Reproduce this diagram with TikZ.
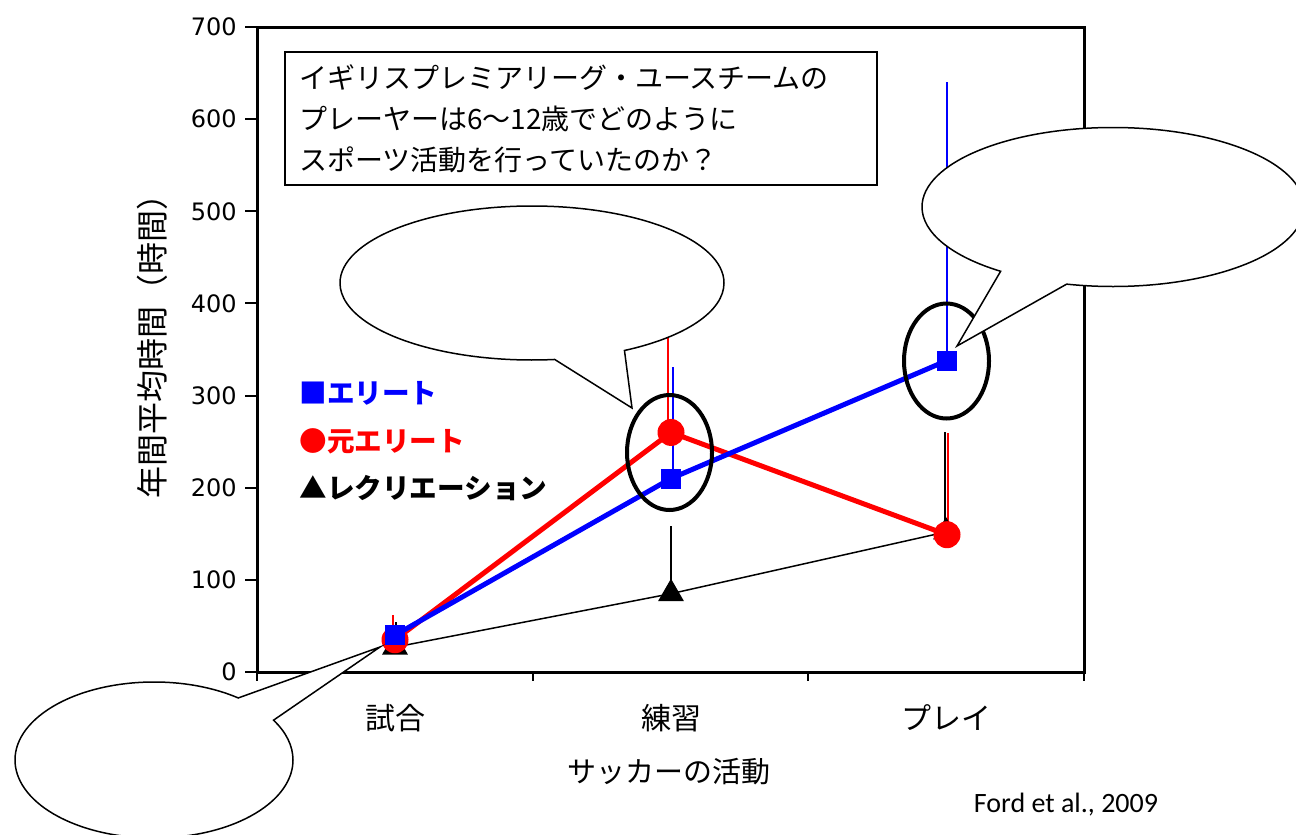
\documentclass[tikz,border=0pt]{standalone}
\usepackage{fontspec}
\newfontfamily\jpfont{Noto Sans CJK JP}
\newfontfamily\tickfont{DejaVu Sans}
\newfontfamily\citefont{Carlito}
\usepackage{tikz}
\usetikzlibrary{shapes.geometric, shapes.callouts, positioning}

\definecolor{eliteblue}{RGB}{0,0,255}
\definecolor{exred}{RGB}{255,0,0}

\begin{document}
\begin{tikzpicture}[
    x=0.5pt, y=-0.5pt,
    frame/.style={line width=1.5pt},
    tickmark/.style={line width=1pt},
    ticklabel/.style={font=\tickfont\fontsize{12pt}{14pt}\selectfont, inner sep=0pt},
    catlabel/.style={font=\jpfont\fontsize{15pt}{18pt}\selectfont, inner sep=0pt},
    elitemark/.style={rectangle, fill=eliteblue, minimum size=10pt, inner sep=0pt},
    exmark/.style={circle, fill=exred, minimum size=13.5pt, inner sep=0pt},
    recmark/.style={regular polygon, regular polygon sides=3, fill=black, minimum size=15pt, inner sep=0pt},
    eliteline/.style={eliteblue, line width=2.5pt},
    exline/.style={exred, line width=2.5pt},
    recline/.style={black, line width=0.75pt},
    errbar/.style={line width=0.75pt},
    ring/.style={ellipse, draw, line width=2pt, minimum width=42.5pt, minimum height=57.5pt, inner sep=0pt},
    bubble/.style={ellipse callout, draw, fill=white, line width=0.75pt, callout pointer arc=22, inner sep=0pt},
    titlebox/.style={draw, fill=white, line width=1pt, align=left, text width=282pt, minimum height=66.5pt,
        inner xsep=7pt, inner ysep=0pt, font=\jpfont\fontsize{14pt}{20.5pt}\selectfont},
    legend/.style={anchor=west, inner sep=0pt, font=\jpfont\bfseries\fontsize{13.8pt}{16pt}\selectfont}
]
    \useasboundingbox (0,0) rectangle (1296,835);

    % axes
    \draw[frame] (257,27) rectangle (1084,672);
    \foreach \tx in {257,532.7,808.3,1084}
        \draw[tickmark] (\tx,672) -- (\tx,681);

    \begin{scope}[yshift=-336pt, y=0.4607pt]
        \foreach \v in {0,100,...,700} {
            \draw[tickmark] (245,\v) -- (257,\v);
            \node[ticklabel, anchor=east] (ytick\v) at (237,\v) {\v};
        }

        % data
        \coordinate (r1) at (395,27);
        \coordinate (r2) at (671,85);
        \coordinate (r3) at (946,152);
        \coordinate (x1) at (395,35);
        \coordinate (x2) at (671,260);
        \coordinate (x3) at (947,149);
        \coordinate (e1) at (395,40);
        \coordinate (e2) at (671,210);
        \coordinate (e3) at (947,338);

        \coordinate (r1top) at (395,54);
        \coordinate (r2top) at (671,158);
        \coordinate (r3top) at (946,260);
        \coordinate (x1top) at (395,62);
        \coordinate (x2top) at (671,420);
        \coordinate (x3top) at (947,259);
        \coordinate (e2top) at (671,331);
        \coordinate (e3top) at (947,640);

        % error bars
        \draw[errbar] ([xshift=0.5pt]r1) -- ([xshift=0.5pt]r1top);
        \draw[errbar] (r2) -- (r2top);
        \draw[errbar] ([xshift=-0.5pt]r3) -- ([xshift=-0.5pt]r3top);
        \draw[errbar, exred] ([xshift=-1pt]x1) -- ([xshift=-1pt]x1top);
        \draw[errbar, exred] ([xshift=-1.5pt]x2) -- ([xshift=-1.5pt]x2top);
        \draw[errbar, exred] ([xshift=0.5pt]x3) -- ([xshift=0.5pt]x3top);
        \draw[errbar, eliteblue] ([xshift=1pt]e2) -- ([xshift=1pt]e2top);
        \draw[errbar, eliteblue] (e3) -- (e3top);

        % recreation
        \draw[recline] (r1) -- (r2) -- (r3);
        \node[recmark] (r1m) at (r1) {};
        \node[recmark] (r2m) at (r2) {};
        \node[recmark] (r3m) at (r3) {};

        % former elite
        \draw[exline] (x1) -- (x2) -- (x3);
        \node[exmark] (x1m) at (x1) {};
        \node[exmark] (x2m) at (x2) {};
        \node[exmark] (x3m) at (x3) {};

        % elite
        \draw[eliteline] (e1) -- (e2) -- (e3);
        \node[elitemark] (e1m) at (e1) {};
        \node[elitemark] (e2m) at (e2) {};
        \node[elitemark] (e3m) at (e3) {};
    \end{scope}

    \node[ring] (ring2) at (669.5,452.5) {};
    \node[ring] (ring3) at (946.5,361) {};

    % category labels
    \node[catlabel] (cat1) at (395,718) {試合};
    \node[catlabel] (cat2) at (671,718) {練習};
    \node[catlabel] (cat3) at (946,718) {プレイ};
    \node[font=\jpfont\fontsize{14.5pt}{17pt}\selectfont] (xtitle) at (669,772) {サッカーの活動};
    \node[font=\jpfont\fontsize{16pt}{19pt}\selectfont, rotate=90] (ytitle) at (152,338) {年間平均時間（時間）};
    \node[font=\citefont\fontsize{14pt}{17pt}\selectfont] (source) at (1066,805) {Ford et al., 2009};

    % callouts
    \coordinate (tipmid) at (632,408);
    \coordinate (tipright) at (957,346);
    \coordinate (tipleft) at (380,647);
    \node[bubble, minimum width=192pt, minimum height=77pt, callout absolute pointer={(tipmid)}] (bubmid) at (532,283) {};
    \node[bubble, minimum width=191pt, minimum height=79.5pt, callout absolute pointer={(tipright)}] (bubright) at (1113,207) {};
    \node[bubble, minimum width=139pt, minimum height=78pt, callout absolute pointer={(tipleft)}] (bubleft) at (154,760) {};

    \node[titlebox, anchor=north west] (title) at (284,51)
        {イギリスプレミアリーグ・ユースチームの\\プレーヤーは6〜12歳でどのように\\スポーツ活動を行っていたのか？};

    % legend
    \node[legend, text=eliteblue] (legelite) at (299,393) {■エリート};
    \node[legend, text=exred] (legex) at (299,441) {●元エリート};
    \node[legend] (legrec) at (299,488) {▲レクリエーション};
\end{tikzpicture}
\end{document}
